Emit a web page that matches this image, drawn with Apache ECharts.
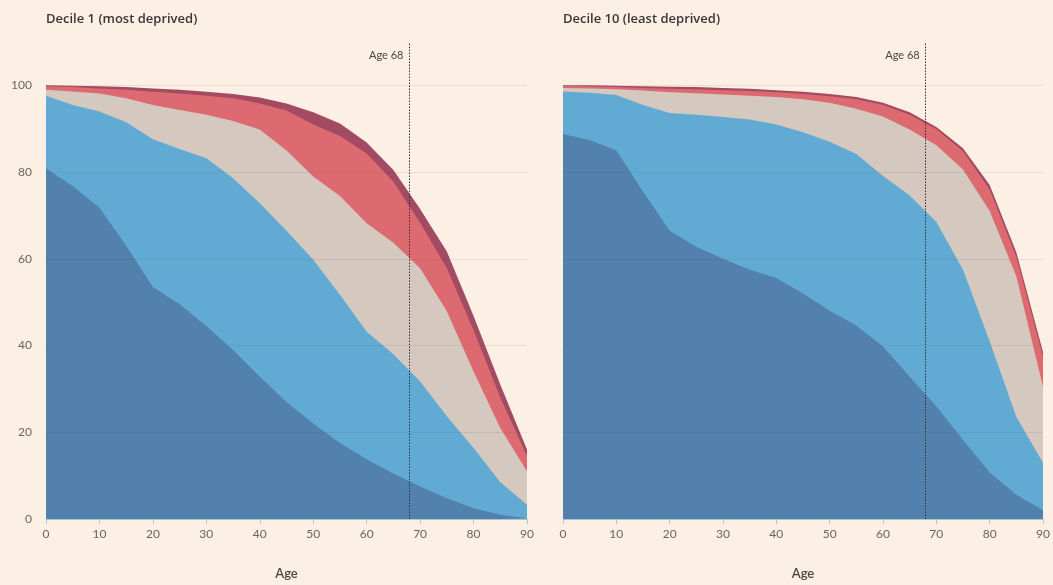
<!DOCTYPE html>
<html>
<head>
<meta charset="utf-8">
<script src="https://cdn.jsdelivr.net/npm/echarts@6/dist/echarts.min.js"></script>
<style>
html,body{margin:0;padding:0;background:#FCEFE4;}
#chart{width:1053px;height:585px;}
</style>
</head>
<body>
<div id="chart"></div>
<script>
// Ages (x values)
const ages = [0,5,10,15,20,25,30,35,40,45,50,55,60,65,70,75,80,85,90];
const xTicks = [0,10,20,30,40,50,60,70,80,90];
const yTicks = [0,20,40,60,80,100];
const panelTitles = ['Decile 1 (most deprived)', 'Decile 10 (least deprived)'];
const markAge = 68;
const markLabel = 'Age 68';
const xName = 'Age';

// Decile 1 (most deprived) – cumulative top edge of each band (%)
const d1DarkRed = [100,99.9,99.8,99.6,99.3,99,98.5,98,97.2,95.8,93.8,91.2,86.8,80.5,71.5,61.7,46.8,31,16];
const d1Red     = [99.8,99.6,99.3,99,98.5,98.1,97.6,97,95.8,94.2,91,88.3,84.3,77.8,68.3,57.8,43.5,28,14.5];
const d1Beige   = [99,98.6,98.1,97,95.5,94.3,93.2,91.8,89.8,85,79,74.5,68.2,63.7,57.8,47.9,34,21,11];
const d1Light   = [97.6,95.5,94,91.5,87.6,85.3,83.2,78.6,72.8,66.5,59.8,51.7,43.2,38,31.7,23.7,16.4,8.5,3.3];
const d1Dark    = [80.8,76.8,71.8,63,53.5,49.5,44.5,39,32.8,27,22,17.5,13.8,10.5,7.5,4.8,2.5,1,0.2];

// Decile 10 (least deprived)
const d10DarkRed = [100,100,99.9,99.8,99.7,99.6,99.4,99.2,98.9,98.5,98,97.3,96,93.8,90.4,85.5,77,61.5,38.5];
const d10Red     = [99.9,99.8,99.6,99.4,99.2,99.1,98.9,98.7,98.4,98,97.5,96.8,95.5,93.2,89.9,84.8,76,60.5,37.5];
const d10Beige   = [99.4,99.3,99.1,98.8,98.4,98.2,97.9,97.6,97.3,96.8,96,94.6,92.8,89.8,86.2,80.6,71,56,30.5];
const d10Light   = [98.6,98.3,97.8,95.5,93.6,93.2,92.7,92.1,91,89.2,87,84.2,79.1,74.6,68.5,57.5,41,23.5,13];
const d10Dark    = [88.8,87.4,85,75.5,66.5,62.8,60,57.5,55.6,52,48,44.6,39.8,32.8,26,18.2,10.7,5.6,2];

const colors = ['#A24B63','#DD6A71','#D5C8BE','#61AAD3','#5381AE'];
const panels = [
  [d1DarkRed, d1Red, d1Beige, d1Light, d1Dark],
  [d10DarkRed, d10Red, d10Beige, d10Light, d10Dark]
];

const grids = [
  {left: 46, top: 42, width: 481, height: 480},
  {left: 563, top: 42, width: 480, height: 480}
];

const font = 'Lato, "Noto Sans", sans-serif';
const titleFont = '"Open Sans", "Noto Sans", sans-serif';

const xAxes = grids.map((g, i) => ({
  type: 'value', gridIndex: i, min: 0, max: 90, interval: 10,
  name: xName, nameLocation: 'middle', nameGap: 48,
  nameTextStyle: {color: '#4a4542', fontSize: 13, fontFamily: font, fontWeight: 600},
  axisLine: {show: true, lineStyle: {color: '#AFC3D3', width: 1}},
  axisTick: {show: true, length: 5, lineStyle: {color: '#AFC3D3'}},
  axisLabel: {color: '#6b6460', fontSize: 12, fontFamily: font, margin: 9,
    formatter: v => xTicks.includes(v) ? String(v) : ''},
  splitLine: {show: false},
  z: 5
}));

const yAxes = grids.map((g, i) => ({
  type: 'value', gridIndex: i, min: 0, max: 110, interval: 20,
  axisLine: {show: false}, axisTick: {show: false},
  axisLabel: {show: i === 0, color: '#6b6460', fontSize: 12, fontFamily: font, margin: 14,
    showMaxLabel: false, formatter: v => yTicks.includes(v) ? String(v) : ''},
  splitLine: {show: true, showMaxLine: false, lineStyle: {color: 'rgba(90,70,60,0.11)', width: 1}},
  z: 5
}));

const series = [];
panels.forEach((bands, pi) => {
  bands.forEach((vals, bi) => {
    const s = {
      type: 'line', xAxisIndex: pi, yAxisIndex: pi,
      data: ages.map((a, k) => [a, vals[k]]),
      showSymbol: false, symbol: 'none', silent: true,
      lineStyle: {width: 0},
      areaStyle: {color: colors[bi], opacity: 1},
      z: 2 + bi * 0.01,
      animation: false
    };
    if (bi === bands.length - 1) {
      s.markLine = {
        silent: true, symbol: 'none', animation: false,
        lineStyle: {color: '#2f2f33', type: [1.5, 1.5], width: 1},
        label: {show: true, position: 'end', formatter: markLabel, align: 'right', verticalAlign: 'top',
          distance: [0, -8], padding: [0, 6, 0, 0], color: '#4a4542', fontSize: 11, fontFamily: font},
        data: [{xAxis: markAge}]
      };
    }
    series.push(s);
  });
});

const chart = echarts.init(document.getElementById('chart'), null, {renderer: 'canvas'});
chart.setOption({
  backgroundColor: '#FCEFE4',
  animation: false,
  title: panelTitles.map((t, i) => ({
    text: t, left: grids[i].left, top: 13, padding: 0,
    textStyle: {color: '#3b3634', fontSize: 13, fontWeight: 600, fontFamily: titleFont}
  })),
  grid: grids,
  xAxis: xAxes,
  yAxis: yAxes,
  series: series
});
</script>
</body>
</html>
